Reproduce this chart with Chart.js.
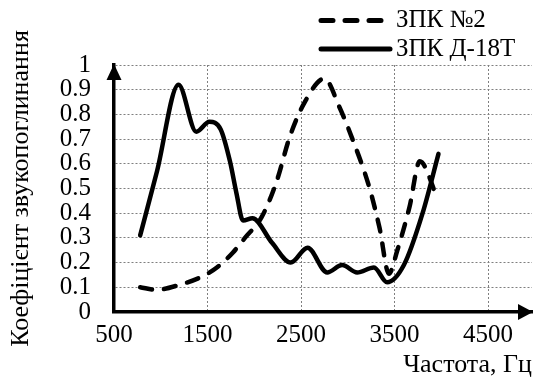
<!DOCTYPE html>
<html>
<head>
<meta charset="utf-8">
<script src="https://cdn.jsdelivr.net/npm/chart.js@4.4.1/dist/chart.umd.min.js"></script>
<style>
  html, body { margin: 0; padding: 0; background: #fff; }
  #wrap { width: 533px; height: 385px; }
  .probe { font-family: 'Liberation Serif'; position: absolute; left: -999px; }
</style>
</head>
<body>
<span class="probe">ЗПК №2 0.1</span>
<div id="wrap"><canvas id="chart"></canvas></div>
<script>
// ЗПК №2
const freqN2 = [780, 950, 1200, 1450, 1600, 1770, 1900, 2080, 2240, 2380, 2540, 2750, 2910, 3050, 3230, 3340, 3440, 3530, 3660, 3770, 3960]
const absN2 = [0.10, 0.09, 0.11, 0.145, 0.18, 0.24, 0.30, 0.385, 0.53, 0.71, 0.85, 0.945, 0.83, 0.70, 0.505, 0.34, 0.155, 0.25, 0.425, 0.61, 0.46]

// ЗПК Д-18Т
const freqD18 = [780, 960, 1190, 1380, 1520, 1640, 1740, 1810, 1880, 1980, 2190, 2390, 2570, 2780, 2940, 3100, 3280, 3420, 3600, 3800, 3970]
const absD18 = [0.31, 0.57, 0.92, 0.73, 0.77, 0.74, 0.61, 0.48, 0.37, 0.38, 0.28, 0.20, 0.26, 0.16, 0.19, 0.16, 0.18, 0.12, 0.19, 0.40, 0.64]

const seriesNames = ['ЗПК №2', 'ЗПК Д-18Т']
const xTicks = [500, 1500, 2500, 3500, 4500]
const yTicks = [0, 0.1, 0.2, 0.3, 0.4, 0.5, 0.6, 0.7, 0.8, 0.9, 1]

const FONT = '"Liberation Serif", "DejaVu Serif", serif'
Chart.defaults.font.family = FONT
Chart.defaults.font.size = 25
Chart.defaults.color = '#000'

const toPoints = (xs, ys) => xs.map((x, i) => ({ x: x, y: ys[i] }))

// legend stacked in two rows at the top right
const stackedLegend = {
    id: 'stackedLegend',
    afterDraw(chart) {
        const ctx = chart.ctx
        chart.data.datasets.forEach((ds, i) => {
            const y = 20.5 + i * 28.5
            ctx.save()
            ctx.strokeStyle = ds.borderColor
            ctx.lineWidth = 5
            ctx.lineCap = 'round'
            ctx.setLineDash(ds.borderDash || [])
            ctx.beginPath()
            ctx.moveTo(321, y)
            ctx.lineTo(390, y)
            ctx.stroke()
            ctx.setLineDash([])
            ctx.fillStyle = '#000'
            ctx.font = '25px ' + FONT
            ctx.textBaseline = 'middle'
            ctx.fillText(ds.label, 396, y)
            ctx.restore()
        })
    }
}

// arrow heads on both axes
const axisArrows = {
    id: 'axisArrows',
    afterDraw(chart) {
        const { ctx, chartArea } = chart
        ctx.save()
        ctx.fillStyle = '#000'
        ctx.beginPath()
        ctx.moveTo(chartArea.left, chartArea.top - 1)
        ctx.lineTo(chartArea.left - 7.5, chartArea.top + 15)
        ctx.lineTo(chartArea.left + 7.5, chartArea.top + 15)
        ctx.closePath()
        ctx.fill()
        ctx.beginPath()
        ctx.moveTo(chartArea.right + 1, chartArea.bottom)
        ctx.lineTo(chartArea.right - 14, chartArea.bottom - 8)
        ctx.lineTo(chartArea.right - 14, chartArea.bottom + 8)
        ctx.closePath()
        ctx.fill()
        ctx.restore()
    }
}

function drawChart() {
    new Chart(document.getElementById('chart'), {
        type: 'line',
        data: {
            datasets: [{
                label: seriesNames[0],
                data: toPoints(freqN2, absN2),
                borderColor: '#000',
                borderWidth: 4.5,
                borderDash: [12, 12],
                borderCapStyle: 'round',
                borderJoinStyle: 'round',
                cubicInterpolationMode: 'monotone',
                pointRadius: 0,
                fill: false
            }, {
                label: seriesNames[1],
                data: toPoints(freqD18, absD18),
                borderColor: '#000',
                borderWidth: 4.5,
                borderCapStyle: 'round',
                borderJoinStyle: 'round',
                cubicInterpolationMode: 'monotone',
                pointRadius: 0,
                fill: false
            }]
        },
        options: {
            responsive: true,
            maintainAspectRatio: false,
            animation: false,
            layout: { padding: { top: 65, right: 1, bottom: 0, left: 0 } },
            plugins: {
                legend: { display: false },
                tooltip: { enabled: false }
            },
            scales: {
                x: {
                    type: 'linear',
                    min: 500,
                    max: 4970,
                    afterBuildTicks: s => { s.ticks = xTicks.map(v => ({ value: v })) },
                    afterFit: s => { s.height = 73 },
                    ticks: { padding: 8, maxRotation: 0, autoSkip: false, callback: v => String(v) },
                    grid: { color: '#7f7f7f', lineWidth: 1, drawTicks: false },
                    border: { color: '#000', width: 3.5, dash: [2, 2] },
                    title: {
                        display: true,
                        text: 'Частота, Гц',
                        align: 'end',
                        font: { size: 26 },
                        padding: { top: 0, bottom: 4 }
                    }
                },
                y: {
                    min: 0,
                    max: 1,
                    afterBuildTicks: s => { s.ticks = yTicks.map(v => ({ value: v })) },
                    afterFit: s => { s.width = 114 },
                    ticks: { padding: 23, autoSkip: false, callback: v => String(v) },
                    grid: { color: '#7f7f7f', lineWidth: 1, drawTicks: false },
                    border: { color: '#000', width: 3.5, dash: [2, 2] },
                    title: {
                        display: true,
                        text: 'Коефіцієнт звукопоглинання',
                        font: { size: 26 },
                        padding: { top: 6, bottom: 0 }
                    }
                }
            }
        },
        plugins: [stackedLegend, axisArrows]
    })
}

document.fonts.load('25px "Liberation Serif"', 'ЗПК №2').then(drawChart, drawChart)
</script>
</body>
</html>
